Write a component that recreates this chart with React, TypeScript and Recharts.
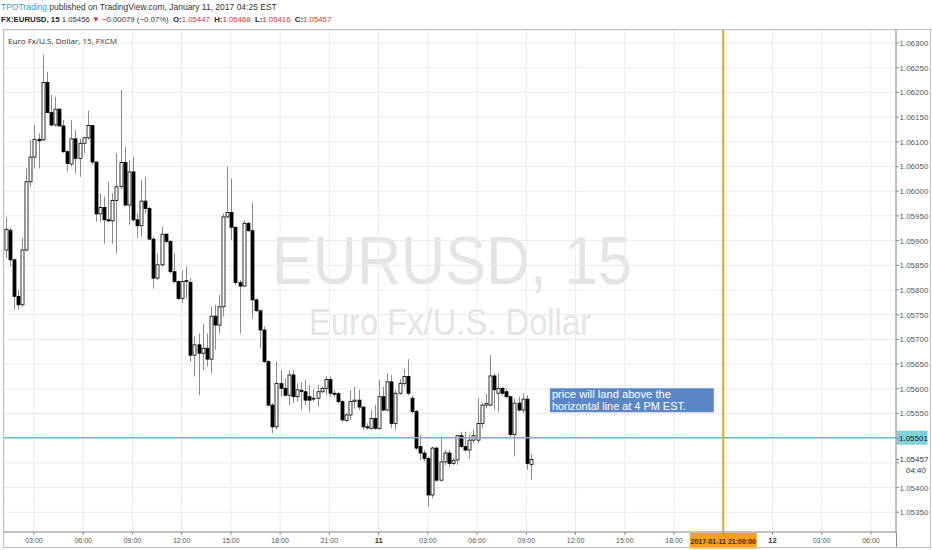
import React from 'react'
import { ComposedChart, Bar, XAxis, YAxis, CartesianGrid, ReferenceLine, ReferenceArea } from 'recharts'

// 15-minute slots counted from 00:00 Jan 10; first candle sits in slot 5 (01:15)
const FIRST_SLOT = 5

const OPEN = [
  1.05881, 1.05921, 1.05861, 1.05787, 1.05770, 1.05881, 1.06019, 1.06069, 1.06105, 1.06104,
  1.06220, 1.06159, 1.06134, 1.06166, 1.06132, 1.06080, 1.06055, 1.06106, 1.06066, 1.06097,
  1.06108, 1.06133, 1.06059, 1.05954, 1.05967, 1.05942, 1.05940, 1.05981, 1.06009, 1.06058,
  1.05972, 1.06039, 1.05942, 1.05930, 1.05980, 1.05965, 1.05903, 1.05824, 1.05851, 1.05913,
  1.05898, 1.05837, 1.05817, 1.05783, 1.05817, 1.05815, 1.05668, 1.05689, 1.05672, 1.05682,
  1.05660, 1.05747, 1.05729, 1.05766, 1.05948, 1.05957, 1.05927, 1.05815, 1.05808, 1.05935,
  1.05920, 1.05780, 1.05758, 1.05719, 1.05655, 1.05567, 1.05523, 1.05611, 1.05601, 1.05587,
  1.05628, 1.05584, 1.05597, 1.05594, 1.05584, 1.05580, 1.05581, 1.05594, 1.05601, 1.05619,
  1.05591, 1.05590, 1.05574, 1.05536, 1.05547, 1.05574, 1.05577, 1.05563, 1.05523, 1.05520,
  1.05540, 1.05520, 1.05584, 1.05557, 1.05614, 1.05530, 1.05591, 1.05611, 1.05625, 1.05581,
  1.05554, 1.05483, 1.05470, 1.05459, 1.05385, 1.05480, 1.05415, 1.05452, 1.05470, 1.05449,
  1.05456, 1.05505, 1.05483, 1.05476, 1.05496, 1.05496, 1.05530, 1.05567, 1.05567, 1.05626,
  1.05591, 1.05601, 1.05594, 1.05584, 1.05507, 1.05571, 1.05557, 1.05579, 1.05447,
]
const HIGH = [
  1.05948, 1.05926, 1.05864, 1.05800, 1.05905, 1.06046, 1.06104, 1.06134, 1.06117, 1.06276,
  1.06242, 1.06195, 1.06191, 1.06168, 1.06144, 1.06083, 1.06144, 1.06124, 1.06107, 1.06110,
  1.06163, 1.06134, 1.06060, 1.05996, 1.05989, 1.06019, 1.05996, 1.06077, 1.06205, 1.06090,
  1.06063, 1.06070, 1.05955, 1.06023, 1.06029, 1.05969, 1.05908, 1.05874, 1.05928, 1.05915,
  1.05901, 1.05874, 1.05819, 1.05840, 1.05847, 1.05824, 1.05706, 1.05712, 1.05732, 1.05712,
  1.05766, 1.05770, 1.05790, 1.05955, 1.06050, 1.06026, 1.05928, 1.05820, 1.05942, 1.05938,
  1.05977, 1.05783, 1.05760, 1.05726, 1.05658, 1.05571, 1.05655, 1.05638, 1.05621, 1.05638,
  1.05638, 1.05611, 1.05614, 1.05618, 1.05608, 1.05598, 1.05608, 1.05604, 1.05625, 1.05625,
  1.05598, 1.05594, 1.05577, 1.05551, 1.05598, 1.05604, 1.05598, 1.05564, 1.05530, 1.05557,
  1.05567, 1.05618, 1.05604, 1.05631, 1.05628, 1.05598, 1.05620, 1.05640, 1.05660, 1.05586,
  1.05557, 1.05507, 1.05476, 1.05463, 1.05483, 1.05483, 1.05500, 1.05476, 1.05476, 1.05460,
  1.05507, 1.05513, 1.05513, 1.05507, 1.05517, 1.05581, 1.05571, 1.05590, 1.05668, 1.05631,
  1.05631, 1.05604, 1.05601, 1.05586, 1.05581, 1.05584, 1.05591, 1.05587, 1.05468,
]
const LOW = [
  1.05864, 1.05847, 1.05760, 1.05760, 1.05766, 1.05878, 1.06009, 1.06046, 1.06046, 1.06102,
  1.06158, 1.06131, 1.06131, 1.06131, 1.06077, 1.06040, 1.06050, 1.06036, 1.06029, 1.06077,
  1.06104, 1.06053, 1.05938, 1.05938, 1.05894, 1.05938, 1.05894, 1.05874, 1.06005, 1.05969,
  1.05932, 1.05938, 1.05905, 1.05908, 1.05955, 1.05901, 1.05803, 1.05820, 1.05847, 1.05894,
  1.05834, 1.05813, 1.05780, 1.05773, 1.05783, 1.05655, 1.05625, 1.05587, 1.05638, 1.05645,
  1.05631, 1.05679, 1.05712, 1.05746, 1.05945, 1.05901, 1.05810, 1.05712, 1.05807, 1.05918,
  1.05743, 1.05756, 1.05682, 1.05652, 1.05564, 1.05510, 1.05518, 1.05584, 1.05584, 1.05567,
  1.05571, 1.05574, 1.05557, 1.05567, 1.05554, 1.05574, 1.05564, 1.05592, 1.05587, 1.05584,
  1.05584, 1.05571, 1.05533, 1.05533, 1.05537, 1.05560, 1.05557, 1.05517, 1.05517, 1.05517,
  1.05517, 1.05517, 1.05554, 1.05554, 1.05520, 1.05517, 1.05588, 1.05605, 1.05587, 1.05550,
  1.05476, 1.05456, 1.05453, 1.05361, 1.05378, 1.05412, 1.05412, 1.05446, 1.05442, 1.05446,
  1.05446, 1.05480, 1.05473, 1.05459, 1.05490, 1.05490, 1.05520, 1.05560, 1.05564, 1.05557,
  1.05554, 1.05587, 1.05581, 1.05503, 1.05463, 1.05554, 1.05551, 1.05436, 1.05416,
]
const CLOSE = [
  1.05923, 1.05861, 1.05787, 1.05770, 1.05881, 1.06019, 1.06069, 1.06105, 1.06102, 1.06220,
  1.06159, 1.06134, 1.06166, 1.06132, 1.06080, 1.06056, 1.06106, 1.06066, 1.06097, 1.06108,
  1.06133, 1.06059, 1.05954, 1.05967, 1.05942, 1.05940, 1.05981, 1.06009, 1.06058, 1.05972,
  1.06039, 1.05942, 1.05930, 1.05980, 1.05965, 1.05903, 1.05824, 1.05851, 1.05913, 1.05898,
  1.05837, 1.05817, 1.05783, 1.05817, 1.05819, 1.05668, 1.05689, 1.05672, 1.05682, 1.05660,
  1.05747, 1.05729, 1.05766, 1.05948, 1.05957, 1.05927, 1.05815, 1.05808, 1.05935, 1.05920,
  1.05780, 1.05758, 1.05719, 1.05655, 1.05567, 1.05523, 1.05611, 1.05601, 1.05587, 1.05628,
  1.05584, 1.05598, 1.05595, 1.05577, 1.05577, 1.05581, 1.05594, 1.05601, 1.05619, 1.05591,
  1.05590, 1.05574, 1.05537, 1.05547, 1.05574, 1.05577, 1.05563, 1.05523, 1.05522, 1.05540,
  1.05520, 1.05584, 1.05557, 1.05614, 1.05530, 1.05591, 1.05611, 1.05625, 1.05591, 1.05554,
  1.05480, 1.05470, 1.05459, 1.05385, 1.05480, 1.05415, 1.05452, 1.05470, 1.05449, 1.05455,
  1.05505, 1.05483, 1.05476, 1.05496, 1.05505, 1.05530, 1.05567, 1.05570, 1.05626, 1.05598,
  1.05601, 1.05591, 1.05584, 1.05507, 1.05571, 1.05557, 1.05579, 1.05449, 1.05457,
]

const X_TICKS = [12, 24, 36, 48, 60, 72, 84, 96, 108, 120, 132, 144, 156, 168, 180, 192, 204, 216]
const X_LABELS = [
  '03:00', '06:00', '09:00', '12:00', '15:00', '18:00', '21:00', '11', '03:00',
  '06:00', '09:00', '12:00', '15:00', '18:00', '', '12', '03:00', '06:00',
]
const Y_TICKS = [
  1.0535, 1.054, 1.0545, 1.055, 1.0555, 1.056, 1.0565, 1.057, 1.0575, 1.058,
  1.0585, 1.059, 1.0595, 1.06, 1.0605, 1.061, 1.0615, 1.062, 1.0625, 1.063,
]
const HIDDEN_Y = [1.0545, 1.055]

const LEVEL = 1.05501
const LAST_PRICE = 1.05457
const LAST_TIMER = '04:40'
const EVENT_SLOT = 180
const EVENT_LABEL = '2017-01-11 21:00:00'
const NOTE_LINES = ['price will land above the', 'horizontal line at 4 PM EST.']

// header quote line, drawn in one flowing run: text, colour, bold
const QUOTE_PARTS: [string, string, boolean][] = [
  ['FX:EURUSD, 15 ', '#222', true],
  ['1.05456 ', '#333', false],
  ['▼ ', '#d32f2f', false],
  ['−0.00079 (−0.07%)  ', '#333', false],
  ['O:', '#222', true],
  ['1.05447  ', '#d32f2f', false],
  ['H:', '#222', true],
  ['1.05468  ', '#d32f2f', false],
  ['L:', '#222', true],
  ['1.05416  ', '#d32f2f', false],
  ['C:', '#222', true],
  ['1.05457', '#d32f2f', false],
]

const AXIS_FONT = '"Liberation Sans", Arial, sans-serif'
const HEAD_FONT = '"Open Sans", sans-serif'

const data = OPEN.map((o, i) => ({ q: FIRST_SLOT + i, o, h: HIGH[i], l: LOW[i], c: CLOSE[i] }))

function Candle(props: any) {
  const { x, y, width, height, payload } = props
  if (!payload || height == null) return null
  const { o, h, l, c } = payload
  const top = Math.min(y, y + height)
  const span = Math.abs(height)
  const k = span / (h - l)
  const cx = Math.round(x + width / 2) + 0.5
  const yo = top + (h - o) * k
  const yc = top + (h - c) * k
  const up = c >= o
  const bTop = Math.min(yo, yc)
  const bH = Math.max(Math.abs(yo - yc), 1)
  return (
    <g>
      <line x1={cx} x2={cx} y1={top} y2={top + span} stroke="#8a8a8a" strokeWidth={1} />
      <rect x={cx - 1.5} y={bTop} width={3} height={bH} fill={up ? '#fff' : '#000'} stroke="#000" strokeWidth={0.8} />
    </g>
  )
}

function TimeTick({ x, payload }: any) {
  const i = X_TICKS.indexOf(payload.value)
  const label = X_LABELS[i] ?? ''
  if (!label) return <g />
  const bold = label.length <= 2
  return (
    <text x={x} y={543} textAnchor="middle" fontSize={bold ? 7.5 : 7} fontWeight={bold ? 700 : 400} fill={bold ? '#333' : '#555'} fontFamily={AXIS_FONT}>
      {label}
    </text>
  )
}

function PriceTick({ y, payload }: any) {
  const v = payload.value
  if (HIDDEN_Y.some((h) => Math.abs(h - v) < 1e-7)) return <g />
  return (
    <text x={899.5} y={y + 3} fontSize={8} fill="#555" fontFamily={AXIS_FONT}>
      {v.toFixed(5)}
    </text>
  )
}

function LevelTag({ viewBox }: any) {
  const yy = viewBox.y
  const right = viewBox.x + viewBox.width
  return (
    <g>
      <rect x={right + 0.5} y={yy - 7} width={31} height={14} fill="#7fd1d9" />
      <text x={right + 3} y={yy + 3} fontSize={8} fill="#1a1a1a" fontFamily={AXIS_FONT}>{LEVEL.toFixed(5)}</text>
    </g>
  )
}

function LastTag({ viewBox }: any) {
  const yy = viewBox.y
  const right = viewBox.x + viewBox.width
  return (
    <g>
      <line x1={right} x2={right + 3} y1={yy} y2={yy} stroke="#666" />
      <text x={right + 3.5} y={yy + 2.5} fontSize={8} fill="#333" fontFamily={AXIS_FONT}>{LAST_PRICE.toFixed(5)}</text>
      <text x={right + 30} y={yy + 14} fontSize={8} fill="#333" textAnchor="end" fontFamily={AXIS_FONT}>{LAST_TIMER}</text>
    </g>
  )
}

function EventTag({ viewBox }: any) {
  const xx = viewBox.x
  const bottom = viewBox.y + viewBox.height
  return (
    <g>
      <rect x={xx - 33.5} y={bottom + 1} width={67} height={15.5} fill="#f5a11e" />
      <text x={xx} y={bottom + 11.5} textAnchor="middle" fontSize={7} fontWeight={700} fill="#3a2a10" fontFamily={AXIS_FONT}>
        {EVENT_LABEL}
      </text>
    </g>
  )
}

function NoteText({ viewBox }: any) {
  const { x, y } = viewBox
  return (
    <g>
      <text x={x + 2} y={y + 9.5} fontSize={10} fill="#fff" fontFamily={AXIS_FONT} textLength={119} lengthAdjust="spacingAndGlyphs">
        {NOTE_LINES[0]}
      </text>
      <text x={x + 2} y={y + 21.5} fontSize={10} fill="#fff" fontFamily={AXIS_FONT} textLength={134} lengthAdjust="spacingAndGlyphs">
        {NOTE_LINES[1]}
      </text>
    </g>
  )
}

export default function App() {
  return (
    <div style={{ position: 'absolute', left: 0, top: 0, width: 932, height: 550, background: '#fff' }}>
      <svg width={932} height={550} style={{ position: 'absolute', left: 0, top: 0 }}>
        <text x={272} y={284} fontSize={68} fill="#e4e4e4" fontFamily={AXIS_FONT} textLength={360} lengthAdjust="spacingAndGlyphs">
          EURUSD, 15
        </text>
        <text x={309} y={335} fontSize={36} fill="#e4e4e4" fontFamily={AXIS_FONT} textLength={282} lengthAdjust="spacingAndGlyphs">
          Euro Fx/U.S. Dollar
        </text>
      </svg>
      <div style={{ position: 'absolute', left: 0, top: 0 }}>
        <ComposedChart width={932} height={550} data={data} margin={{ top: 30, right: 0, bottom: 2, left: 4 }}>
          <CartesianGrid stroke="#eaeaea" />
          <XAxis
            type="number"
            dataKey="q"
            domain={[4.7, 222.1]}
            allowDataOverflow
            ticks={X_TICKS}
            interval={0}
            height={16}
            tick={<TimeTick />}
            tickSize={3}
            stroke="#8c8c8c"
          />
          <YAxis
            orientation="right"
            type="number"
            domain={[1.053101, 1.063263]}
            allowDataOverflow
            ticks={Y_TICKS}
            interval={0}
            width={36}
            tick={<PriceTick />}
            tickSize={3}
            stroke="#8c8c8c"
          />
          <ReferenceArea
            x1={137.75}
            x2={177.7}
            y1={1.055524}
            y2={1.05601}
            fill="#5b87c8"
            fillOpacity={1}
            stroke="none"
            label={(p: any) => <NoteText viewBox={p.viewBox} />}
          />
          <Bar dataKey={(d: any) => [d.l, d.h]} barSize={3} shape={<Candle />} isAnimationActive={false} />
          <ReferenceLine y={LEVEL} stroke="#5ec3ce" strokeWidth={1.5} label={(p: any) => <LevelTag viewBox={p.viewBox} />} />
          <ReferenceLine y={LAST_PRICE} stroke="none" strokeOpacity={0} label={(p: any) => <LastTag viewBox={p.viewBox} />} />
          <ReferenceLine x={EVENT_SLOT} stroke="#f5a11e" strokeWidth={2} label={(p: any) => <EventTag viewBox={p.viewBox} />} />
        </ComposedChart>
      </div>
      <svg width={932} height={550} style={{ position: 'absolute', left: 0, top: 0, pointerEvents: 'none' }}>
        <rect x={3.5} y={29.5} width={927} height={518} fill="none" stroke="#bdbdbd" />
        <line x1={896.5} x2={896.5} y1={532} y2={547} stroke="#8c8c8c" />
        <text x={8} y={44} fontSize={8} fill="#333" fontFamily={HEAD_FONT} textLength={109} lengthAdjust="spacingAndGlyphs">
          Euro Fx/U.S. Dollar, 15, FXCM
        </text>
        <text x={1} y={10} fontSize={8.5} fontFamily={AXIS_FONT} xmlSpace="preserve">
          <tspan fill="#2a9fd6">TPOTrading</tspan>
          <tspan fill="#333"> published on TradingView.com, January 11, 2017 04:25 EST</tspan>
        </text>
        <text x={1} y={22} fontSize={7.8} fontFamily={AXIS_FONT} xmlSpace="preserve">
          {QUOTE_PARTS.map(([t, col, bold], i) => (
            <tspan key={i} fill={col} fontWeight={bold ? 700 : 400}>{t}</tspan>
          ))}
        </text>
      </svg>
    </div>
  )
}
